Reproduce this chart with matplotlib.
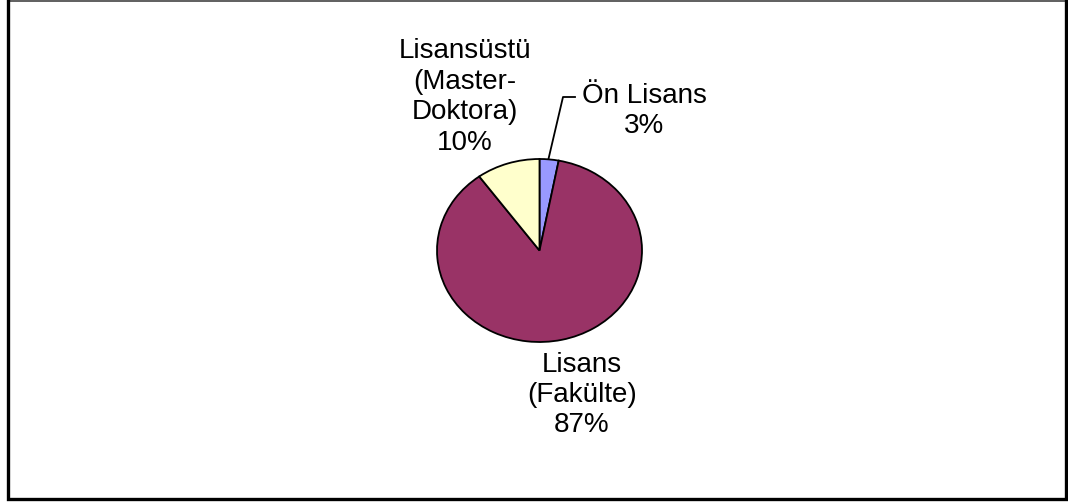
import matplotlib.pyplot as plt

plt.rcParams['font.family'] = ['Liberation Sans', 'DejaVu Sans']

# data
labels = ['Ön Lisans\n3%', 'Lisans\n(Fakülte)\n87%', 'Lisansüstü\n(Master-\nDoktora)\n10%']
values = [3, 87, 10]
colors = ['#9999FF', '#993366', '#FFFFCC']

W, H = 1068, 504
fig = plt.figure(figsize=(W / 100, H / 100), dpi=100)

# pie in its own axes, stretched a bit like the original
cx, cy, rx, ry = 539.5, 250.5, 102.5, 91.5
ax = fig.add_axes([(cx - rx) / W, 1 - (cy + ry) / H, 2 * rx / W, 2 * ry / H])
ax.pie(values, colors=colors, startangle=90, counterclock=False,
       wedgeprops=dict(edgecolor='black', linewidth=1.3))
ax.set_aspect('auto')
ax.set_xlim(-1, 1)
ax.set_ylim(-1, 1)
ax.axis('off')

# overlay in pixel coords for labels, leader line and frame
ov = fig.add_axes([0, 0, 1, 1], zorder=-1)
ov.set_xlim(0, W)
ov.set_ylim(H, 0)
ov.axis('off')
ov.patch.set_alpha(0)

fs = 20
ls = 1.22
ov.text(644, 111, labels[0], ha='center', va='center', fontsize=fs, linespacing=ls)
ov.text(582, 395, labels[1], ha='center', va='center', fontsize=fs, linespacing=ls)
ov.text(465, 97, labels[2], ha='center', va='center', fontsize=fs, linespacing=ls)

# leader line for the small slice
ov.plot([575, 563, 548], [97, 97, 161], color='black', lw=1.3)

# frame: thin top, heavier left/right/bottom
ov.plot([7.5, 1066], [0.7, 0.7], color='#444444', lw=1.2)
ov.plot([7.5, 7.5, 1065.5, 1065.5], [0, 498.5, 498.5, 0], color='black', lw=2.4,
        solid_joinstyle='miter')

fig.savefig('out.png', dpi=100)
